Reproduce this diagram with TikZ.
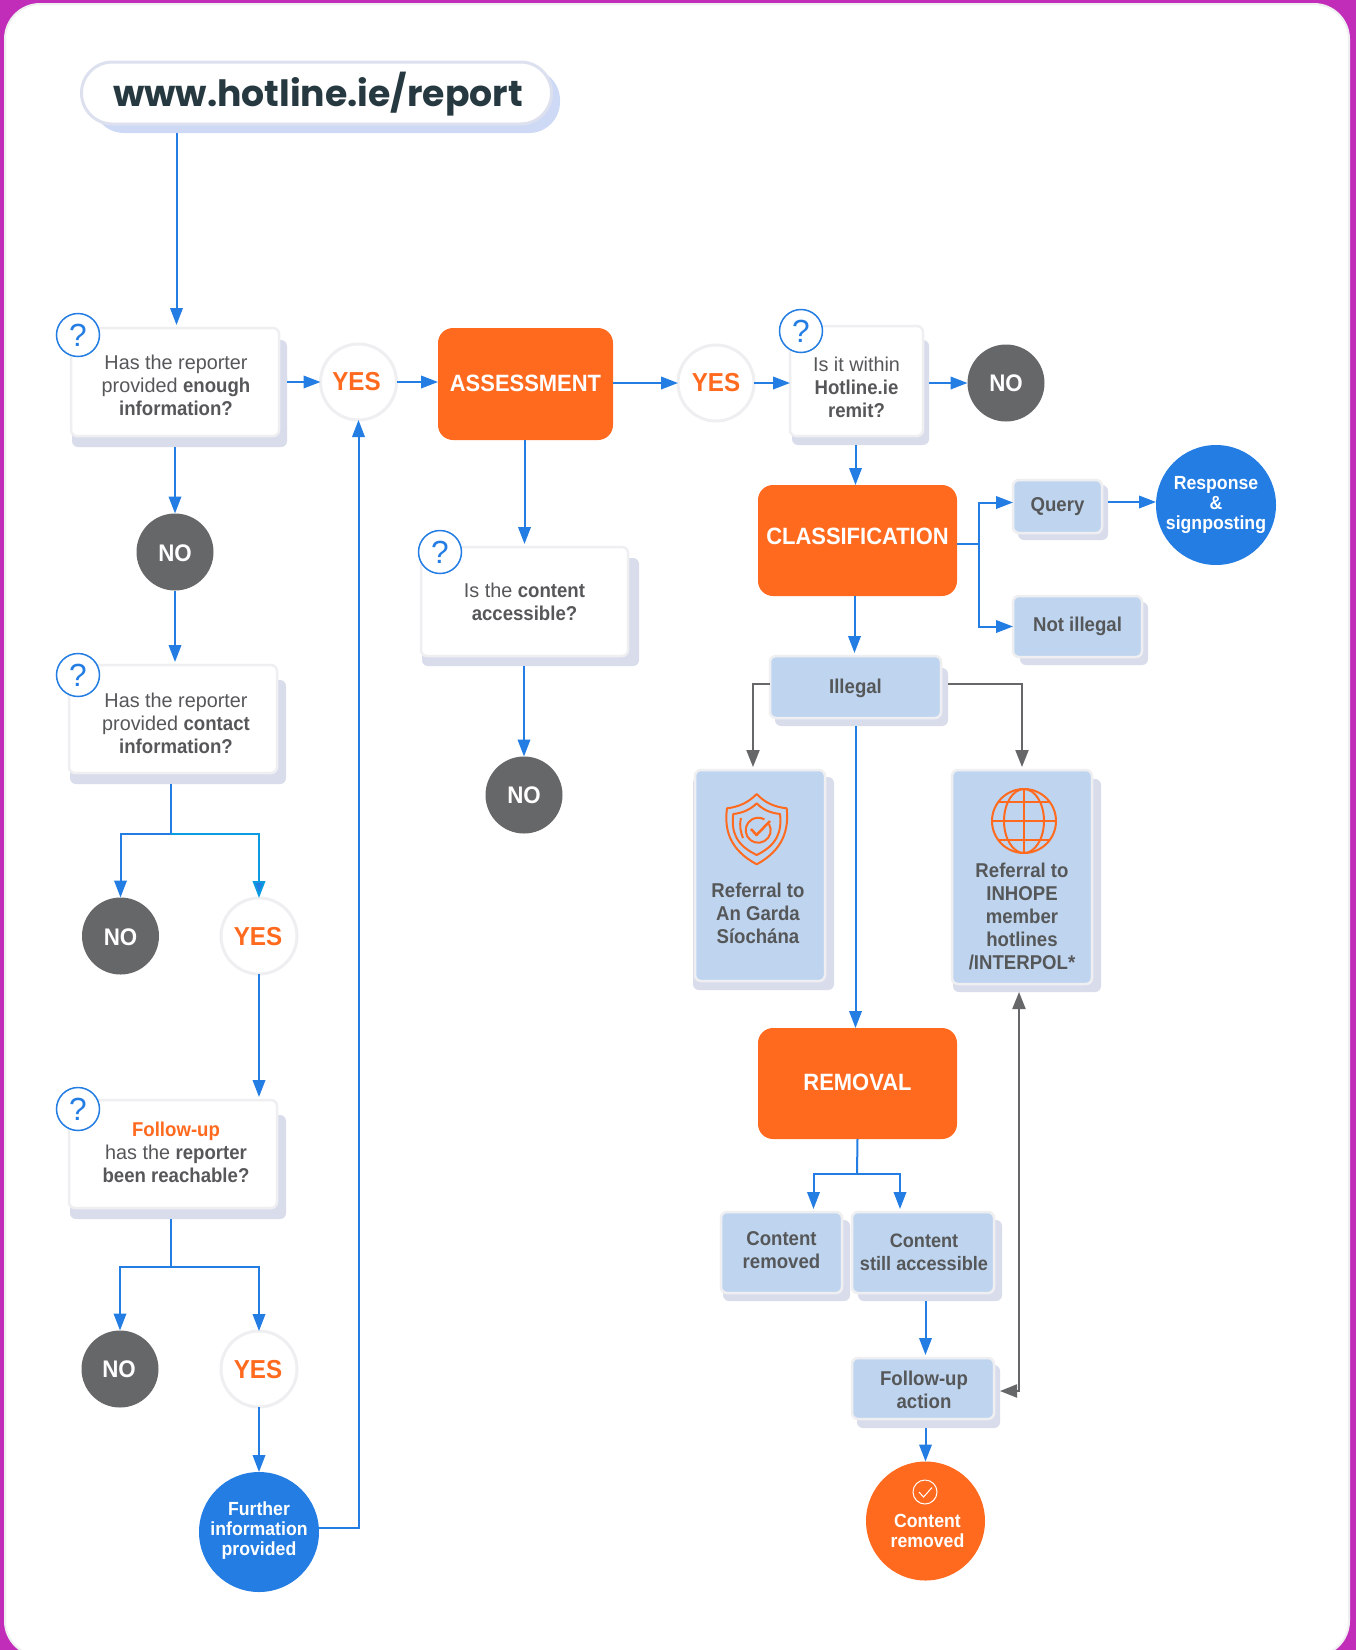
\documentclass[tikz,border=0pt]{standalone}
\usepackage{fontspec}
\setmainfont{Liberation Sans}[FakeStretch=0.99,BoldFeatures={FakeStretch=0.93}]
\newfontfamily\titlefont{Poppins}
\usetikzlibrary{arrows.meta,calc}
\definecolor{mag}{HTML}{C12DB9}
\definecolor{cardline}{HTML}{EFEFF2}
\definecolor{shade}{HTML}{D8DCEB}
\definecolor{pillshade}{HTML}{CDD9F5}
\definecolor{pillline}{HTML}{DDE0EE}
\definecolor{flowblue}{HTML}{237DE3}
\definecolor{flowcyan}{HTML}{0A9BE0}
\definecolor{orng}{HTML}{FF6A1F}
\definecolor{lblue}{HTML}{BFD5EF}
\definecolor{txt}{HTML}{555759}
\definecolor{grayc}{HTML}{666769}
\definecolor{titlec}{HTML}{263840}
\newcommand\rbox[9]{%
  \pgfmathsetmacro\bxc{(#3+#5)/2}\pgfmathsetmacro\byc{(#4+#6)/2}%
  \pgfmathsetmacro\bw{#5-#3}\pgfmathsetmacro\bh{#6-#4}%
  \node[#1,minimum width=\bw pt,minimum height=\bh pt] (#2) at (\bxc,\byc) {};%
  \node[boxtext] (#2t) at ($(\bxc,\byc)+(#8,#9)$) {#7};}
\newcommand\shadeb[5]{%
  \pgfmathsetmacro\bxc{(#2+#4)/2}\pgfmathsetmacro\byc{(#3+#5)/2}%
  \pgfmathsetmacro\bw{#4-#2}\pgfmathsetmacro\bh{#5-#3}%
  \node[shadebox,minimum width=\bw pt,minimum height=\bh pt] (#1s) at (\bxc,\byc) {};}
\newcommand\rcirc[8]{%
  \node[#1,minimum size=#5 pt] (#2) at (#3,#4) {};%
  \node[boxtext] (#2t) at ($(#3,#4)+(#7,#8)$) {#6};}
\newcommand\qm[3]{\node[qmark] (#1) at (#2,#3) {?};}
\tikzset{
  x=1pt,y=-1pt,
  every node/.style={inner sep=0,outer sep=0},
  boxtext/.style={align=center,font=\fontsize{20}{23}\selectfont,text=txt},
  shadebox/.style={rectangle,rounded corners=6pt,fill=shade},
  whitecard/.style={rectangle,rounded corners=6pt,fill=white,draw=cardline,line width=2.5pt},
  bluecard/.style={rectangle,rounded corners=6pt,fill=lblue,draw=cardline,line width=2.5pt},
  orangecard/.style={rectangle,rounded corners=15pt,fill=orng},
  qmark/.style={circle,minimum size=43pt,fill=white,draw=flowblue,line width=1.5pt,text=flowblue,font=\fontsize{32}{32}\selectfont},
  yescirc/.style={circle,fill=white,draw=cardline,line width=3pt},
  nocirc/.style={circle,fill=grayc},
  bluecirc/.style={circle,fill=flowblue},
  orangecirc/.style={circle,fill=orng},
  flow/.style={draw=flowblue,line width=2pt,-{Triangle[length=17pt,width=12.5pt,fill=flowblue]}},
  flowcy/.style={draw=flowcyan,line width=2pt,-{Triangle[length=17pt,width=12.5pt,fill=flowblue]}},
  plainflow/.style={draw=flowblue,line width=2pt},
  gflow/.style={draw=grayc,line width=2pt,-{Triangle[length=17pt,width=13pt,fill=grayc]}},
  gboth/.style={draw=grayc,line width=2pt,{Triangle[length=17pt,width=13pt,fill=grayc]}-{Triangle[length=17pt,width=13pt,fill=grayc]}},
  icon/.style={draw=orng,line width=2pt,line join=round},
  gap/.style={shorten >=3pt},
}
\newcommand\wb[1]{\textcolor{white}{\bfseries\fontsize{19}{19}\selectfont #1}}
\newcommand\smb[1]{{\bfseries\fontsize{19.5}{23}\selectfont #1}}
\newcommand\yes{\textcolor{orng}{\bfseries\fontsize{26}{26}\selectfont YES}}
\newcommand\nno{\textcolor{white}{\bfseries\fontsize{24}{24}\selectfont NO}}
\newcommand\head[1]{\textcolor{white}{\bfseries\fontsize{23.6}{23.6}\selectfont #1}}
\begin{document}
\begin{tikzpicture}
\useasboundingbox (0,0) rectangle (1356,1650);
\fill[mag] (0,0) rectangle (1356,1650);
\fill[white,draw=cardline,line width=2pt,rounded corners=35pt] (5,4) rectangle (1349,1656);

% title
\node[rectangle,rounded corners=31pt,fill=pillshade,minimum width=467pt,minimum height=64pt] (pills) at (326.5,101) {};
\node[rectangle,rounded corners=31pt,fill=white,draw=pillline,line width=3pt,minimum width=470pt,minimum height=62pt] (pill) at (316.5,93) {};
\node[font=\titlefont\bfseries\fontsize{36.2}{36.2}\selectfont,text=titlec] (pillt) at (318,94) {www.hotline.ie/report};

% left column
\shadeb{box1}{72}{340}{287}{447}
\rbox{whitecard}{box1}{71}{328}{279}{436}{Has the reporter\\provided \textbf{enough}\\\textbf{information?}}{1}{3}
\qm{q1}{78}{335}
\rcirc{yescirc}{yes1}{358.5}{382}{76}{\yes}{-2}{0}
\rcirc{nocirc}{no1}{175}{552}{77}{\nno}{0}{1}
\shadeb{box3}{70}{680}{286}{784}
\rbox{whitecard}{box3}{69}{665}{277}{773}{Has the reporter\\provided \textbf{contact}\\\textbf{information?}}{3}{4}
\qm{q3}{78}{675}
\rcirc{nocirc}{no3}{120.5}{936}{77}{\nno}{0}{1}
\rcirc{yescirc}{yes3}{259}{936}{76}{\yes}{-1}{1}
\shadeb{box4}{70}{1115}{286}{1219}
\rbox{whitecard}{box4}{69}{1100}{277}{1208}{\textcolor{orng}{\bfseries Follow-up}\\has the \textbf{reporter}\\\textbf{been reachable?}}{3}{-2}
\qm{q4}{78}{1109}
\rcirc{nocirc}{no4}{120}{1369}{77}{\nno}{-1}{0}
\rcirc{yescirc}{yes4}{259}{1369}{76}{\yes}{-1}{1}
\rcirc{bluecirc}{fur}{259}{1532}{120}{\wb{Further}\\[-3pt]\wb{information}\\[-3pt]\wb{provided}}{0}{-1}

% middle column
\rbox{orangecard}{ass}{438}{328}{613}{440}{\head{ASSESSMENT}}{0}{-1}
\shadeb{box5}{422}{558}{639}{666}
\rbox{whitecard}{box5}{421}{547}{628}{656}{Is the \textbf{content}\\\textbf{accessible?}}{0}{0}
\qm{q5}{440}{552}
\rcirc{nocirc}{no5}{524}{795}{77}{\nno}{0}{0}

% right column
\rcirc{yescirc}{yes2}{716}{383}{76}{\yes}{0}{0}
\shadeb{box2}{792}{340}{929}{445}
\rbox{whitecard}{box2}{790}{326}{923}{436}{Is it within\\\textbf{Hotline.ie}\\\textbf{remit?}}{0}{6}
\qm{q2}{801}{331}
\rcirc{nocirc}{no2}{1006}{383}{77}{\nno}{0}{0}
\rbox{orangecard}{class}{758}{485}{957}{596}{\head{CLASSIFICATION}}{0}{-4}
\shadeb{query}{1018}{485}{1108}{540}
\rbox{bluecard}{query}{1013}{480}{1102}{533}{\textbf{Query}}{0}{0}
\rcirc{bluecirc}{resp}{1216}{505}{120}{\wb{Response}\\[-3pt]\wb{\&}\\[-3pt]\wb{signposting}}{0}{0}
\shadeb{nill}{1020}{602}{1148}{665}
\rbox{bluecard}{nill}{1013}{596}{1142}{657}{\textbf{Not illegal}}{0}{0}
\shadeb{ill}{775}{668}{948}{726}
\rbox{bluecard}{ill}{770}{656}{941}{718}{\textbf{Illegal}}{0}{1}
\shadeb{garda}{693}{777}{834}{990}
\rbox{bluecard}{garda}{695}{770}{825}{981}{\textbf{Referral to}\\\textbf{An Garda}\\\textbf{Síochána}}{-2}{38}
\shadeb{inh}{953}{779}{1101}{992}
\rbox{bluecard}{inh}{952}{770}{1092}{984}{\textbf{Referral to}\\\textbf{INHOPE}\\\textbf{member}\\\textbf{hotlines}\\\textbf{/INTERPOL*}}{0}{39}
\rbox{orangecard}{rem}{758}{1028}{957}{1139}{\head{REMOVAL}}{0}{-1}
\shadeb{crem}{723}{1220}{850}{1301}
\rbox{bluecard}{crem}{721}{1212}{842}{1293}{\textbf{Content}\\\textbf{removed}}{0}{-2}
\shadeb{sacc}{858}{1220}{1002}{1301}
\rbox{bluecard}{sacc}{852}{1212}{994}{1293}{\smb{Content}\\\smb{still accessible}}{1}{0}
\shadeb{fu}{857}{1365}{1000}{1428}
\rbox{bluecard}{fu}{852}{1358}{994}{1419}{\textbf{Follow-up}\\\textbf{action}}{1}{1}
\rcirc{orangecirc}{crc}{925.5}{1521}{119}{\wb{Content}\\[-3pt]\wb{removed}}{2}{10}
\node[circle,draw=white,line width=1pt,minimum size=24pt] (chk) at (925,1492) {};
\draw[white,line width=1pt] (919,1492) -- (923.5,1497) -- (932,1487.5);

% shield icon
\begin{scope}[icon]
\draw (756.7,794) .. controls (748,803) and (738,807) .. (727,808.3) .. controls (724,830) and (730,850) .. (756.7,864.3) .. controls (783,850) and (789,830) .. (786.7,808.3) .. controls (775,807) and (765,803) .. (756.7,794) -- cycle;
\draw (756.7,803.3) .. controls (750,810) and (742,813) .. (733.3,814) .. controls (731,832) and (736,845) .. (756.7,855) .. controls (777,845) and (782,832) .. (780,814) .. controls (771,813) and (763,810) .. (756.7,803.3) -- cycle;
\draw (769,824) arc[start angle=-30,end angle=300,radius=12.5];
\draw (741,818) .. controls (739,826) and (741,833) .. (743,838);
\draw[line width=2.5pt] (751,829) -- (756.5,835) -- (770,821);
\end{scope}
% globe icon
\begin{scope}[icon]
\draw (1024,821) circle[radius=32];
\draw (1024,821) ellipse[x radius=20,y radius=32];
\draw (1024,789) -- (1024,853);
\draw (992,821) -- (1056,821);
\draw (998.5,802) -- (1049.5,802);
\draw (998.5,840) -- (1049.5,840);
\end{scope}

% connectors
\coordinate (j1) at (978.5,544);
\coordinate (j2) at (857,1174);
\coordinate (j3) at (170.5,834);
\coordinate (j4) at (170.5,1267);
\draw[flow,gap] ([xshift=1.5pt]pills.south -| box1.north) -- ([xshift=1.5pt]box1.north);
\draw[flow] (box1s.east |- yes1) -- (yes1.west);
\draw[flow] (yes1.east) -- (ass.west |- yes1);
\draw[flow] (ass.east |- yes2) -- (yes2.west);
\draw[flow] (yes2.east) -- (box2.west |- yes2);
\draw[flow] (box2s.east |- no2) -- (no2.west);
\draw[flow] ([xshift=-2pt]box2s.south -| class.north) -- ([xshift=-2pt]class.north);
\draw[plainflow] (class.east |- j1) -- (j1);
\draw[flow] (j1) |- ([yshift=4pt]query.west);
\draw[flow] (j1) |- (nill.west);
\draw[flow] ([yshift=3pt]querys.east |- resp) -- ([yshift=3pt]resp.west);
\draw[flow,gap] ([xshift=-1pt]class.south -| ill.north) -- ([xshift=-1pt]ill.north);
\draw[gflow,gap] ([yshift=3pt]ill.west) -| ([xshift=-7pt]garda.north);
\draw[gflow,gap] ([yshift=13pt]ills.east) -| (inh.north);
\draw[flow] ([xshift=-2pt]ills.south -| rem.north) -- ([xshift=-2pt]rem.north);
\draw[plainflow] (rem.south) -- (j2);
\draw[flow,gap] (j2) -| ([xshift=32pt]crem.north);
\draw[flow,gap] (j2) -| ([xshift=-23pt]sacc.north);
\draw[flow,gap] (saccs.south -| crc.north) -- (fu.north -| crc.north);
\draw[flow] (fus.south -| crc.north) -- (crc.north);
\draw[gboth] ([xshift=-8pt]inhs.south) |- ([yshift=5.5pt]fus.east);
\draw[flow,gap] (ass.south -| box5.north) -- (box5.north);
\draw[flow] (box5s.south -| no5.north) -- (no5.north);
\draw[flow] (box1s.south -| no1.north) -- (no1.north);
\draw[flow,gap] (no1.south) -- (box3.north -| no1.south);
\draw[plainflow] (box3s.south -| j3) -- (j3);
\draw[flow] (j3) -| (no3.north);
\draw[flowcy] (j3) -| (yes3.north);
\draw[flow,gap] (yes3.south) -- (box4.north -| yes3.south);
\draw[plainflow] (box4s.south -| j4) -- (j4);
\draw[flow] (j4) -| (no4.north);
\draw[flow] (j4) -| (yes4.north);
\draw[flow] (yes4.south) -- (fur.north);
\draw[flow] ([yshift=4pt]fur.east) -| (yes1.south);
\end{tikzpicture}
\end{document}
